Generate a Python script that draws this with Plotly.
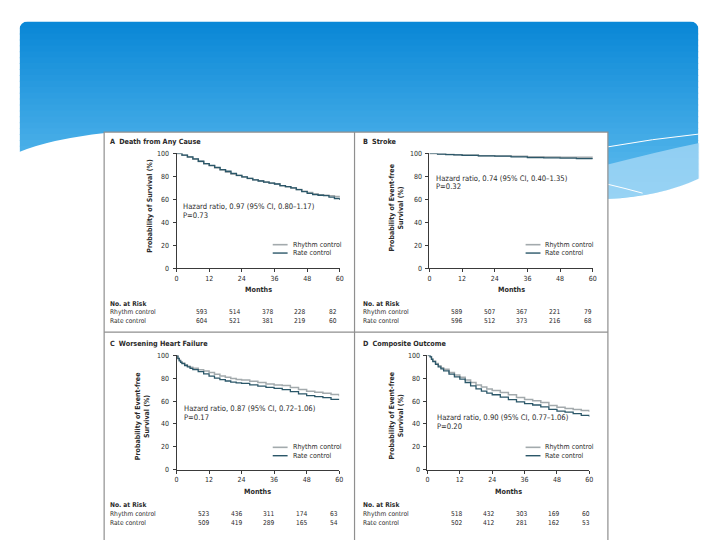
import plotly.graph_objects as go

# ---------------- data ----------------
months_A = [0, 2, 4, 6, 8, 10, 12, 14, 16, 18, 20, 22, 24, 26, 28, 30, 32, 34, 36, 38, 40, 42, 44, 46, 48, 50, 52, 54, 56, 58, 60]
rhythm_A = [100, 98.5, 96.8, 95, 93, 91, 89.2, 87.3, 85.5, 83.6, 82, 80.7, 79.4, 78.3, 77.2, 76.2, 75.2, 74.3, 73.5, 71.8, 71, 70, 68.6, 67.2, 66, 65, 64, 63.6, 63.2, 62.6, 62.2]
rate_A = [100, 98.6, 97, 95.2, 93.2, 91.2, 89.6, 87.8, 86, 84.5, 82.6, 81, 79.6, 78.3, 77, 76, 75, 74.2, 73.4, 72, 71.2, 70.1, 68.5, 66.8, 65.2, 64.2, 63.6, 63.2, 62, 60.8, 59.4]

months_B = [0, 3, 6, 9, 12, 18, 24, 30, 36, 42, 48, 54, 60]
rhythm_B = [100, 99.6, 99.2, 98.9, 98.6, 98.1, 97.8, 97.5, 97.1, 96.9, 96.7, 96.6, 96.5]
rate_B = [100, 99.5, 99, 98.7, 98.3, 97.9, 97.6, 97.0, 96.4, 96.2, 96.0, 95.5, 95.1]

months_C = [0, 0.5, 1, 1.5, 2, 3, 4, 5, 6, 8, 10, 12, 14, 16, 18, 20, 22, 24, 27, 30, 33, 36, 39, 42, 45, 48, 51, 54, 57, 60]
rhythm_C = [100, 97.5, 95.8, 94.5, 93.3, 91.8, 90.6, 89.6, 88.8, 87.5, 86.3, 85, 83.5, 82, 80.8, 79.8, 79, 78.4, 77.3, 76.2, 75, 74.1, 73.6, 72, 70.2, 68.6, 67.8, 67, 65.8, 64.2]
rate_C = [100, 97.2, 95.3, 94, 92.8, 91.2, 89.9, 88.7, 87.6, 85.9, 83.8, 81.9, 80.2, 78.8, 77.6, 76.6, 76, 75.5, 74.3, 73.1, 72, 71.2, 70, 68.4, 66.4, 64.8, 64, 63, 61.6, 61]

months_D = [0, 0.5, 1, 1.5, 2, 3, 4, 5, 6, 8, 10, 12, 14, 16, 18, 20, 22, 24, 27, 30, 33, 36, 39, 42, 45, 48, 51, 54, 57, 60]
rhythm_D = [100, 100, 99, 97, 95.2, 93, 91, 89.3, 87.8, 85, 82.8, 80.8, 78.5, 76.3, 74.2, 72.3, 70.7, 69.3, 67.6, 65.5, 63.2, 61.4, 60.3, 58.8, 56.2, 54.6, 53.6, 52.6, 51.8, 50.4]
rate_D = [100, 100, 98.8, 96.6, 94.6, 92.2, 90, 88.2, 86.4, 83.6, 81.2, 79.2, 76.3, 73.4, 70.8, 68.8, 67, 65.6, 63.5, 61.4, 59.3, 57.8, 56.6, 55, 52.8, 51.2, 50.3, 49.1, 47.6, 46.4]

titles = ["Death from Any Cause", "Stroke", "Worsening Heart Failure", "Composite Outcome"]
letters = ["A", "B", "C", "D"]
ytitles = ["Probability of Survival (%)",
           "Probability of Event-free<br>Survival (%)",
           "Probability of Event-free<br>Survival (%)",
           "Probability of Event-free<br>Survival (%)"]
hazard = ["Hazard ratio, 0.97 (95% CI, 0.80\u20131.17)",
          "Hazard ratio, 0.74 (95% CI, 0.40\u20131.35)",
          "Hazard ratio, 0.87 (95% CI, 0.72\u20131.06)",
          "Hazard ratio, 0.90 (95% CI, 0.77\u20131.06)"]
pvals = ["P=0.73", "P=0.32", "P=0.17", "P=0.20"]
series_names = ["Rhythm control", "Rate control"]
risk_months = [12, 24, 36, 48, 60]
risk_rhythm = [[593, 514, 378, 228, 82], [589, 507, 367, 221, 79],
               [523, 436, 311, 174, 63], [518, 432, 303, 169, 60]]
risk_rate = [[604, 521, 381, 219, 60], [596, 512, 373, 216, 68],
             [509, 419, 289, 165, 54], [502, 412, 281, 162, 53]]
x_ticks = [0, 12, 24, 36, 48, 60]
y_ticks = [0, 20, 40, 60, 80, 100]

months = [months_A, months_B, months_C, months_D]
rhythm = [rhythm_A, rhythm_B, rhythm_C, rhythm_D]
rate = [rate_A, rate_B, rate_C, rate_D]

# ---------------- layout helpers ----------------
W, H = 720, 540
def px(x): return x / W
def py(y): return 1 - y / H

FONT = "Liberation Sans Narrow, DejaVu Sans Condensed, Liberation Sans, Arial"
TXT = "#2a2a2a"
C_RHY = "#a3aaad"
C_RATE = "#2b5769"
FS = 7.0

panels = [
    dict(x0=176, x1=340.7, yt=151.7, yb=268.3, ox=103, oy=130, title_y=140, ytx=149, yty=205,
         months_y=290, risk_y=(304.5, 313, 321.5), haz=(181, 205.7), leg=(273, 244.3), rshift=-7),
    dict(x0=431, x1=595.7, yt=151.7, yb=268.3, ox=358, oy=130, title_y=140, ytx=398, yty=207,
         months_y=290, risk_y=(304.5, 313, 321.5), haz=(436, 177), leg=(528, 244.3), rshift=-5),
    dict(x0=176, x1=340, yt=356.7, yb=472.7, ox=103, oy=333, title_y=344.3, ytx=141.5, yty=418,
         months_y=495, risk_y=(508.5, 517.5, 526.5), haz=(181.7, 411), leg=(273, 450), rshift=-5),
    dict(x0=429, x1=592.3, yt=356.7, yb=472.7, ox=358, oy=333, title_y=344.3, ytx=398, yty=418,
         months_y=495, risk_y=(508.5, 517.5, 526.5), haz=(436.7, 420), leg=(528, 450), rshift=-3),
]

fig = go.Figure()
shapes = []
annotations = []

# ---------------- slide background decoration ----------------
top_c = (10, 136, 215)
bot_c = (100, 192, 240)
y0b, y1b, step = 18, 204, 6
n = int((y1b - y0b) / step)
for i in range(n):
    t = i / (n - 1)
    c = tuple(int(top_c[k] + (bot_c[k] - top_c[k]) * t) for k in range(3))
    ya = y0b + i * step
    shapes.append(dict(type="rect", xref="paper", yref="paper", layer="below",
                       x0=px(18), x1=px(702), y0=py(ya), y1=py(ya + step + 1),
                       fillcolor="rgb(%d,%d,%d)" % c, line=dict(width=0)))

def P(cmds):
    out = []
    for c in cmds:
        if isinstance(c, str):
            out.append(c)
        else:
            out.append("%.5f,%.5f" % (px(c[0]), py(c[1])))
    return " ".join(out)

shapes.append(dict(type="path", xref="paper", yref="paper", layer="below",
                   path=P(["M", (611, 163), "Q", (660, 150), (703, 141), "L", (703, 178),
                           "Q", (665, 195), (611, 198), "Z"]),
                   fillcolor="rgba(170,218,246,0.75)", line=dict(width=0)))
shapes.append(dict(type="path", xref="paper", yref="paper", layer="below",
                   path=P(["M", (0, 150), "L", (18, 150), "Q", (50, 137), (104, 131),
                           "L", (104, 260), "L", (0, 260), "Z"]),
                   fillcolor="white", line=dict(width=0)))
shapes.append(dict(type="path", xref="paper", yref="paper", layer="below",
                   path=P(["M", (610, 198), "Q", (665, 195), (703, 177), "L", (720, 177),
                           "L", (720, 260), "L", (610, 260), "Z"]),
                   fillcolor="white", line=dict(width=0)))
for (a, b, c) in [((17, 17), (27, 17), (17, 27)), ((703, 17), (693, 17), (703, 27))]:
    shapes.append(dict(type="path", xref="paper", yref="paper", layer="below",
                       path=P(["M", a, "L", b, "Q", (a[0] + (1 if a[0] < 300 else -1), a[1] + 1), c, "Z"]),
                       fillcolor="white", line=dict(width=0)))
shapes.append(dict(type="path", xref="paper", yref="paper", layer="below",
                   path=P(["M", (611, 145), "Q", (655, 137), (703, 132)]),
                   line=dict(color="white", width=1)))
shapes.append(dict(type="path", xref="paper", yref="paper", layer="below",
                   path=P(["M", (611, 183), "Q", (628, 187), (646, 192)]),
                   line=dict(color="white", width=1)))

shapes.append(dict(type="rect", xref="paper", yref="paper", layer="below",
                   x0=px(103), x1=px(611), y0=py(546), y1=py(130),
                   fillcolor="white", line=dict(color="#8f8f8f", width=1.2)))
shapes.append(dict(type="line", xref="paper", yref="paper", layer="below",
                   x0=px(355.5), x1=px(355.5), y0=py(130), y1=py(546),
                   line=dict(color="#8f8f8f", width=1.2)))
shapes.append(dict(type="line", xref="paper", yref="paper", layer="below",
                   x0=px(103), x1=px(611), y0=py(333), y1=py(333),
                   line=dict(color="#8f8f8f", width=1.2)))

def ann(text, x, y, size=FS, xanchor="left", color=TXT, **kw):
    d = dict(text=text, x=px(x), y=py(y), xref="paper", yref="paper", showarrow=False,
             xanchor=xanchor, yanchor="middle", font=dict(family=FONT, size=size, color=color))
    d.update(kw)
    annotations.append(d)

RF = 6.6  # at-risk table font size

layout_axes = {}
for i, p in enumerate(panels):
    k = "" if i == 0 else str(i + 1)
    xa, ya = "x" + k, "y" + k
    fig.add_trace(go.Scatter(x=months[i], y=rhythm[i], mode="lines", line_shape="hv",
                             line=dict(color=C_RHY, width=1.5), name=series_names[0],
                             xaxis=xa, yaxis=ya, showlegend=False))
    fig.add_trace(go.Scatter(x=months[i], y=rate[i], mode="lines", line_shape="hv",
                             line=dict(color=C_RATE, width=1.3), name=series_names[1],
                             xaxis=xa, yaxis=ya, showlegend=False))
    axcommon = dict(showline=True, linecolor="#3a3a3a", linewidth=1, ticks="outside", ticklen=3,
                    tickwidth=1, tickcolor="#3a3a3a", showgrid=False, zeroline=False,
                    tickfont=dict(family=FONT, size=FS, color=TXT), fixedrange=True)
    layout_axes["xaxis" + k] = dict(axcommon, domain=[px(p["x0"]), px(p["x1"])], range=[0, 60],
                                    tickvals=x_ticks, anchor=ya)
    layout_axes["yaxis" + k] = dict(axcommon, domain=[py(p["yb"]), py(p["yt"])], range=[0, 100],
                                    tickvals=y_ticks, anchor=xa, ticklabelstandoff=2)
    ann("<b>%s</b>&nbsp;&nbsp;<b>%s</b>" % (letters[i], titles[i]), p["ox"] + 4, p["title_y"], size=7.2)
    ann("<b>%s</b>" % ytitles[i], p["ytx"], p["yty"], size=7, xanchor="center", textangle=-90)
    ann("<b>Months</b>", (p["x0"] + p["x1"]) / 2, p["months_y"], size=7.2, xanchor="center")
    ann(hazard[i], p["haz"][0], p["haz"][1], size=7.6)
    ann(pvals[i], p["haz"][0], p["haz"][1] + 8.5, size=7.6)
    lx, ly = p["leg"]
    for j, (nm, col, wd) in enumerate([(series_names[0], C_RHY, 1.6), (series_names[1], C_RATE, 1.4)]):
        yy = ly + 8.5 * j
        shapes.append(dict(type="line", xref="paper", yref="paper", x0=px(lx), x1=px(lx + 15),
                           y0=py(yy), y1=py(yy), line=dict(color=col, width=wd)))
        ann(nm, lx + 18, yy, size=7.0)
    ry = p["risk_y"]
    ann("<b>No. at Risk</b>", p["ox"] + 4, ry[0], size=RF)
    ann(series_names[0], p["ox"] + 4, ry[1], size=RF)
    ann(series_names[1], p["ox"] + 4, ry[2], size=RF)
    for m, a, b in zip(risk_months, risk_rhythm[i], risk_rate[i]):
        for val, yy in [(a, ry[1]), (b, ry[2])]:
            annotations.append(dict(text=str(val), x=m, xref=xa, y=py(yy), yref="paper",
                                    xshift=p["rshift"], showarrow=False, xanchor="center",
                                    yanchor="middle", font=dict(family=FONT, size=RF, color=TXT)))

fig.update_layout(width=W, height=H, margin=dict(l=0, r=0, t=0, b=0),
                  paper_bgcolor="white", plot_bgcolor="rgba(0,0,0,0)",
                  showlegend=False, shapes=shapes, annotations=annotations,
                  font=dict(family=FONT, color=TXT), **layout_axes)

fig.write_html("out.html", config={"displayModeBar": False},
               post_script="document.body.style.margin='0';")
